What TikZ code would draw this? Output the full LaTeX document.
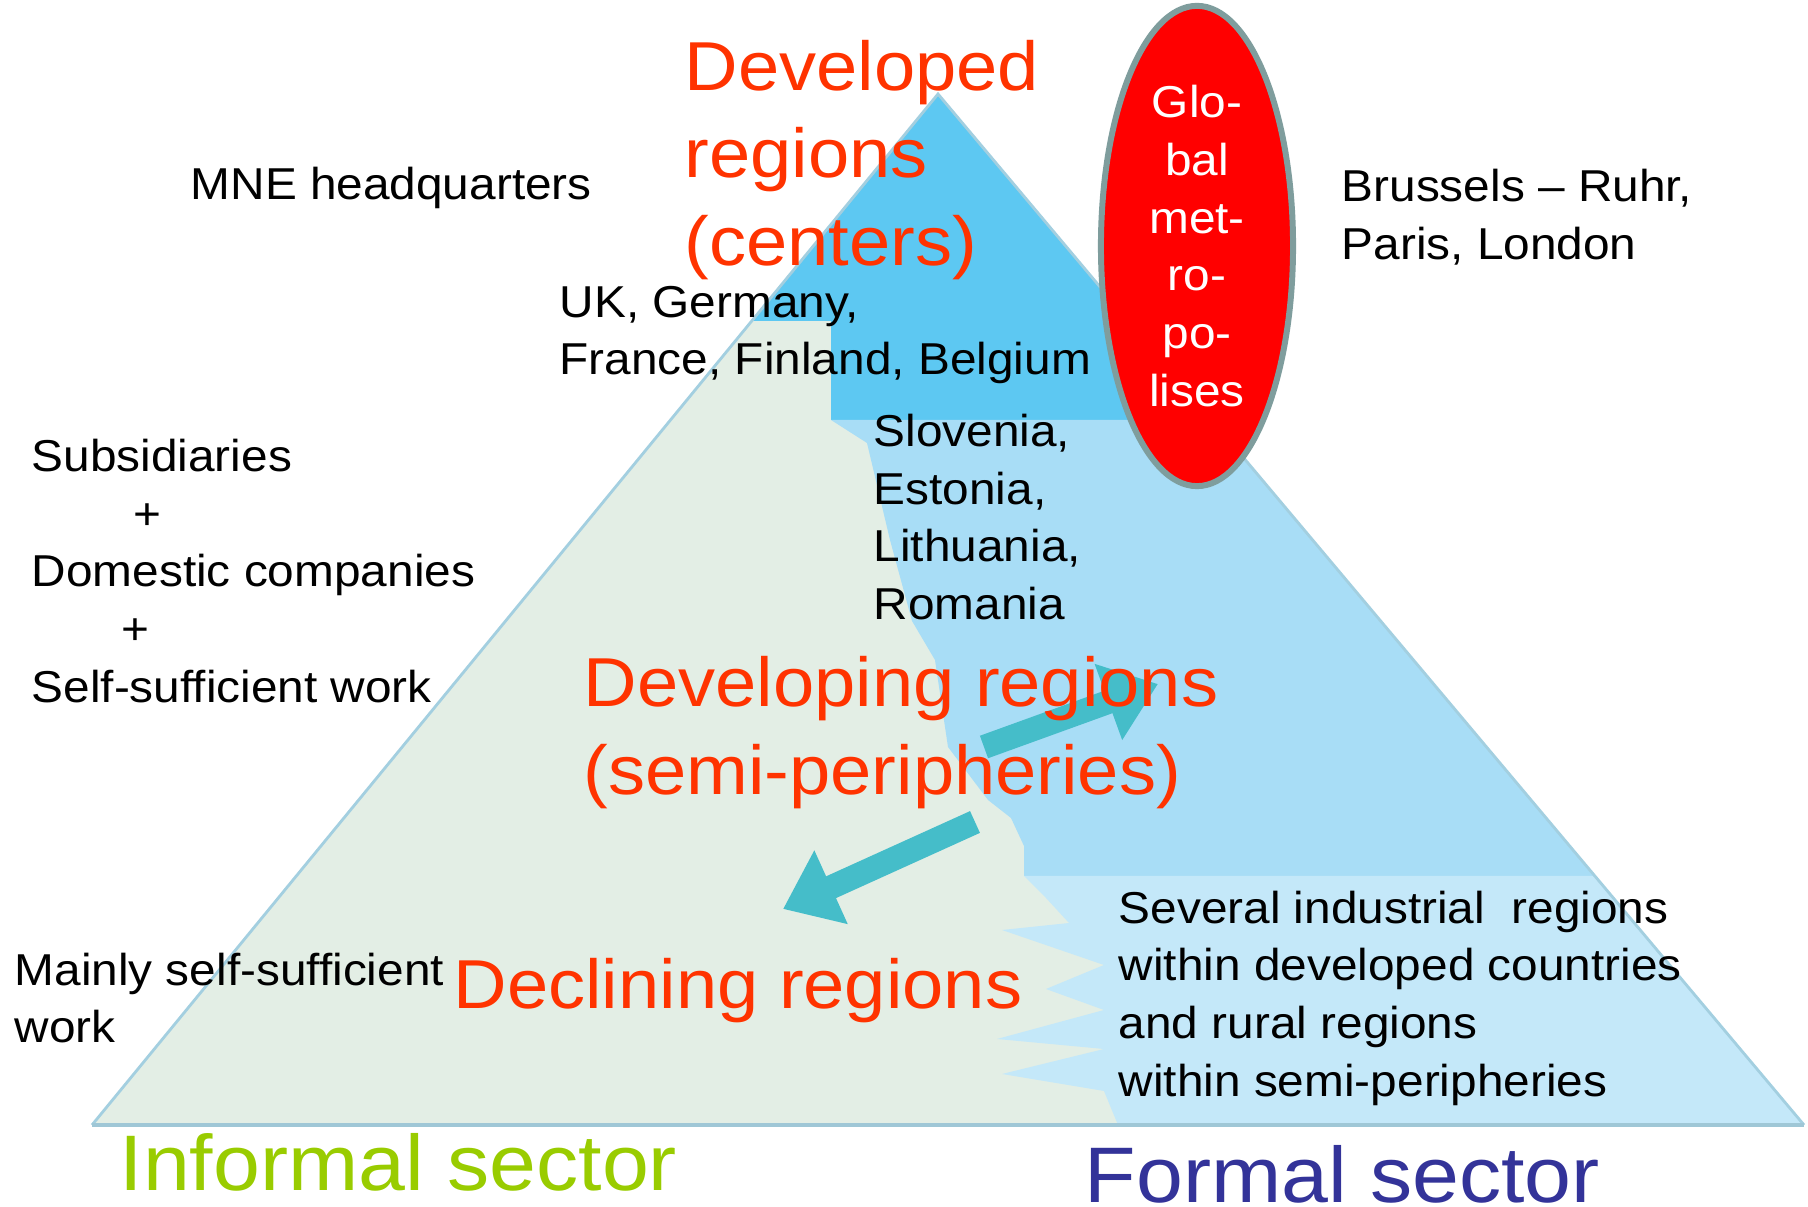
\documentclass[tikz,border=0pt]{standalone}
\usepackage{fontspec}
\setmainfont{Liberation Sans}[FakeStretch=1.07]
\usetikzlibrary{shapes.geometric,arrows.meta}
\definecolor{paleleft}{HTML}{E3EEE5}
\definecolor{centerblue}{HTML}{5DC8F2}
\definecolor{semiblue}{HTML}{A8DDF6}
\definecolor{lowblue}{HTML}{C4E8F9}
\definecolor{edgeblue}{HTML}{A3CFE0}
\definecolor{flowteal}{HTML}{45BDC9}
\definecolor{regred}{HTML}{FF3300}
\definecolor{informalgreen}{HTML}{99CC00}
\definecolor{formalblue}{HTML}{333399}
\definecolor{metrored}{HTML}{FF0000}
\definecolor{metroborder}{HTML}{7F9D9D}

\begin{document}
\begin{tikzpicture}[x=0.01cm,y=-0.01cm,
    txt/.style={anchor=west,align=left,inner sep=0pt,font=\fontsize{12.7}{16.4}\selectfont},
    redtxt/.style={anchor=west,align=left,inner sep=0pt,text=regred,font=\fontsize{19.7}{25}\selectfont},
    sector/.style={anchor=west,inner sep=0pt,font=\fontsize{22.4}{27}\selectfont},
    flow/.style={line width=6.8pt,flowteal,-{Triangle[length=15pt,width=22pt]}}]
    \useasboundingbox[fill=white] (0,0) rectangle (1808,1207);
    \coordinate (top) at (938,94);
    \coordinate (bl) at (92,1125);
    \coordinate (br) at (1804,1125);
    % pyramid layers
    \fill[paleleft] (top) -- (bl) -- (br) -- cycle;
    \fill[centerblue] (top) -- (752,321) -- (831,321) -- (831,420) -- (1212,420) -- cycle;
    \fill[semiblue] (831,420) -- (867,443) -- (890,540) -- (912,621) -- (935,660) -- (948,747)
        -- (988,800) -- (1011,818) -- (1024,846) -- (1024,876) -- (1595,876) -- (1212,420) -- cycle;
    \fill[lowblue] (1024,876) -- (1046,898) -- (1069,923) -- (1002,930) -- (1104,965) -- (1046,989)
        -- (1104,1010) -- (997,1039) -- (1104,1049) -- (1002,1074) -- (1104,1091) -- (1118,1125)
        -- (br) -- (1595,876) -- cycle;
    \draw[edgeblue,line width=0.8pt] (bl) -- (top) -- (br);
    \draw[edgeblue!90!gray,line width=1.2pt] (bl) -- (br);
    % flows between regions
    \coordinate (semiout) at (984,747);
    \coordinate (centerin) at (1158,684);
    \coordinate (semidown) at (975,822);
    \coordinate (declin) at (783,909);
    \draw[flow] (semiout) -- (centerin);
    \draw[flow] (semidown) -- (declin);
    % labels
    \node[txt] (mne) at (190,188) {MNE headquarters};
    \node[txt] (ukde) at (559,335) {UK, Germany,\\France, Finland, Belgium};
    \node[txt] (slov) at (873,517) {Slovenia,\\Estonia,\\Lithuania,\\Romania};
    \node[txt] (bru) at (1341,217) {Brussels -- Ruhr,\\Paris, London};
    \node[txt] (subs) at (31,571) {Subsidiaries\\\hspace*{29pt}+\\Domestic companies\\\hspace*{25.5pt}+\\Self-sufficient work};
    \node[txt] (mainly) at (14,998) {Mainly self-sufficient\\work};
    \node[txt] (several) at (1118,998) {Several industrial\ \ regions\\within developed countries\\and rural regions\\within semi-peripheries};
    \node[redtxt] (developed) at (684,160) {Developed\\regions\\(centers)};
    \node[redtxt] (developing) at (583,733) {Developing regions\\(semi-peripheries)};
    \node[redtxt] (declining) at (453,991) {Declining regions};
    \node[sector,text=informalgreen] (informal) at (119,1162) {Informal sector};
    \node[sector,text=formalblue] (formal) at (1084,1174) {Formal sector};
    \node[ellipse,draw=metroborder,line width=1.7pt,fill=metrored,minimum width=1.92cm,minimum height=4.8cm,
        inner sep=0pt,align=center,text=white,font=\fontsize{12.7}{16.4}\selectfont] (metro) at (1197,246)
        {Glo-\\bal\\met-\\ro-\\po-\\lises};
\end{tikzpicture}
\end{document}
